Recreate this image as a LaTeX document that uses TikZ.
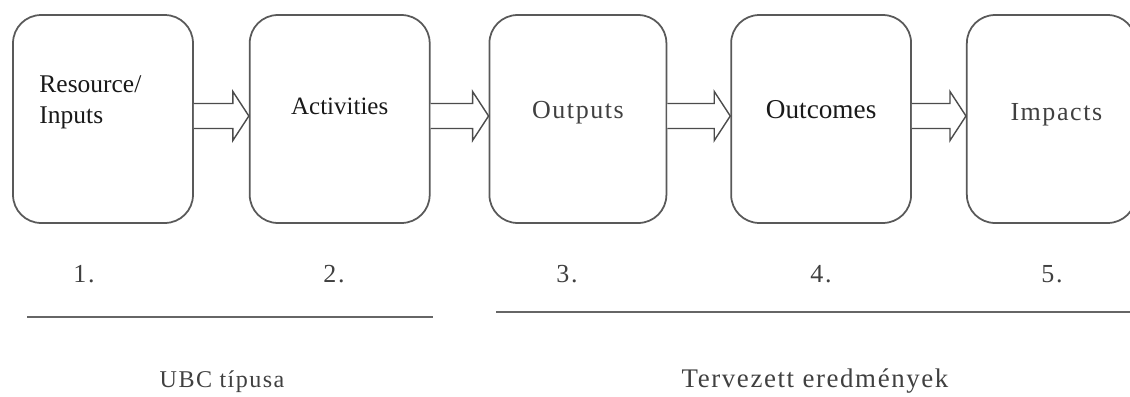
\documentclass[tikz,border=0pt]{standalone}
\usepackage{fontspec}
\setmainfont{Liberation Serif}
\newfontfamily\darkfont{Liberation Serif}
\newfontfamily\lightfont[LetterSpace=6]{Liberation Serif}
\usetikzlibrary{positioning,calc}

\begin{document}
\begin{tikzpicture}[
  x=0.02cm,y=-0.02cm,
  box/.style={draw=black!65,line width=1pt,rounded corners=16pt,minimum width=3.6cm,minimum height=4.16cm,inner sep=0pt},
  hollow/.style={draw=black!70,line width=0.8pt,fill=white,line join=miter},
  txt/.style={inner sep=0pt,text=black!90},
  lite/.style={inner sep=0pt,text=black!75,font=\lightfont\fontsize{14.8}{17}\selectfont},
  rule/.style={draw=black!60,line width=1.2pt}]
\useasboundingbox (0,0) rectangle (1130,396);
\node[box] (b1) at (103,119) {};
\node[box,right=1.1cm of b1] (b2) {};
\node[box,right=1.16cm of b2,minimum width=3.54cm] (b3) {};
\node[box,right=1.26cm of b3] (b4) {};
\node[box,right=1.08cm of b4,minimum width=3.38cm] (b5) {};
\node[txt,align=left,anchor=west,font=\darkfont\fontsize{14.5}{17.6}\selectfont] (t1) at ([xshift=0.54cm,yshift=0.34cm]b1.west) {Resource/\\Inputs};
\node[txt,font=\darkfont\fontsize{14.2}{17}\selectfont] (t2) at ([yshift=0.25cm]b2.center) {Activities};
\node[lite] (t3) at ([yshift=0.12cm]b3.center) {Outputs};
\node[txt,font=\darkfont\fontsize{15.5}{18}\selectfont] (t4) at ([yshift=0.18cm]b4.center) {Outcomes};
\node[lite] (t5) at ([xshift=0.1cm,yshift=0.08cm]b5.center) {Impacts};
\foreach \u/\v in {b1/b2,b2/b3,b3/b4,b4/b5}
  \draw[hollow] let \p1=([yshift=0.06cm]\u.east), \p2=(\v.west) in
    (\x1,\y1+0.25cm) -- (\x2-0.32cm,\y1+0.25cm) -- (\x2-0.32cm,\y1+0.49cm) -- (\x2,\y1)
    -- (\x2-0.32cm,\y1-0.49cm) -- (\x2-0.32cm,\y1-0.25cm) -- (\x1,\y1-0.25cm);
\node[lite] (n1) at (84,274) {1.};
\node[lite] (n2) at (334,274) {2.};
\node[lite] (n3) at (567,274) {3.};
\node[lite] (n4) at (821,274) {4.};
\node[lite] (n5) at (1052,274) {5.};
\draw[rule] (27,317) -- (433,317);
\draw[rule] (496,312) -- (1130,312);
\node[lite,font=\lightfont\fontsize{13.7}{16}\selectfont] (g1) at (222,382) {UBC típusa};
\node[lite,font=\lightfont\fontsize{15.3}{18}\selectfont] (g2) at (815,381) {Tervezett eredmények};
\end{tikzpicture}
\end{document}
